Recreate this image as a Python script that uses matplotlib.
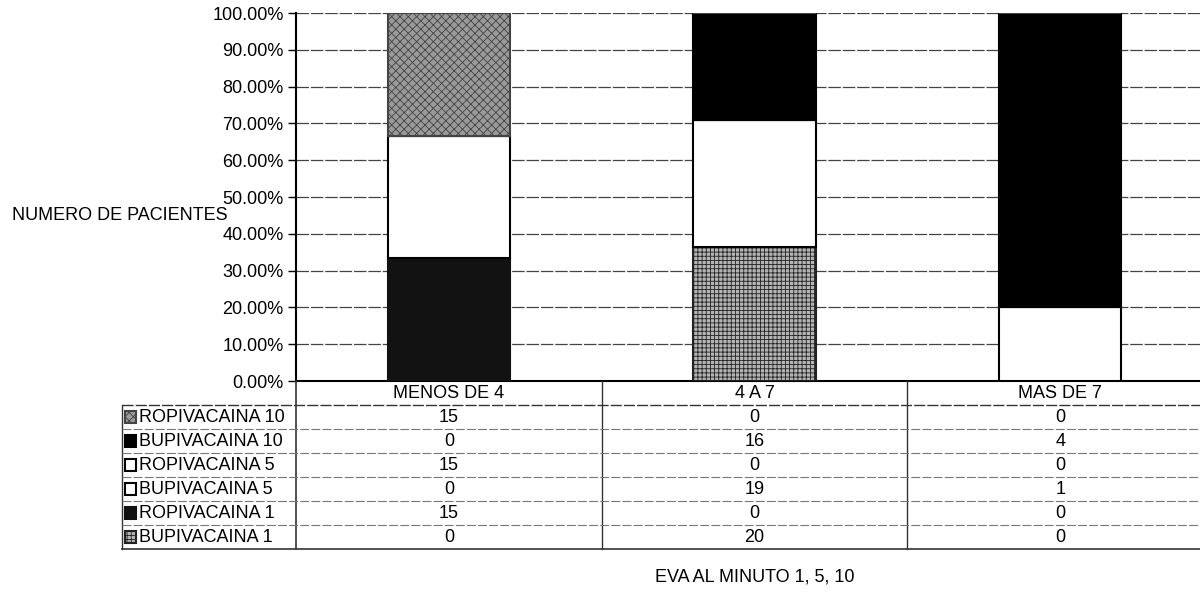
import numpy as np
import matplotlib
matplotlib.use("Agg")
import matplotlib.pyplot as plt
from matplotlib.patches import Rectangle
from matplotlib.ticker import FuncFormatter

plt.rcParams["font.family"] = ["Liberation Sans", "DejaVu Sans"]
plt.rcParams["hatch.linewidth"] = 0.6

# ── data ──────────────────────────────────────────────────────────────────────
categories = ["MENOS DE 4", "4 A 7", "MAS DE 7"]
series     = ["BUPIVACAINA 1", "ROPIVACAINA 1", "BUPIVACAINA 5",
              "ROPIVACAINA 5", "BUPIVACAINA 10", "ROPIVACAINA 10"]   # bottom -> top
values = {
    "BUPIVACAINA 1":  [0, 20, 0],
    "ROPIVACAINA 1":  [15, 0, 0],
    "BUPIVACAINA 5":  [0, 19, 1],
    "ROPIVACAINA 5":  [15, 0, 0],
    "BUPIVACAINA 10": [0, 16, 4],
    "ROPIVACAINA 10": [15, 0, 0],
}
y_label = "NUMERO DE PACIENTES"
x_label = "EVA AL MINUTO 1, 5, 10"

# ── styles ────────────────────────────────────────────────────────────────────
STYLE = {
    "BUPIVACAINA 1":  dict(facecolor="#b4b4b4", edgecolor="#222222", hatch="++++"),
    "ROPIVACAINA 1":  dict(facecolor="#121212", edgecolor="#121212", hatch=None),
    "BUPIVACAINA 5":  dict(facecolor="white",   edgecolor="black",   hatch=None),
    "ROPIVACAINA 5":  dict(facecolor="white",   edgecolor="black",   hatch=None),
    "BUPIVACAINA 10": dict(facecolor="black",   edgecolor="black",   hatch=None),
    "ROPIVACAINA 10": dict(facecolor="#9a9a9a", edgecolor="#444444", hatch="xxxx"),
}
FS = 13

fig = plt.figure(figsize=(12, 6.13), dpi=100)

# ── chart ─────────────────────────────────────────────────────────────────────
W, H = 1200, 613
left, right, top, bottom = 296, 1213, 13, 381
ax = fig.add_axes([left / W, 1 - bottom / H, (right - left) / W, (bottom - top) / H])

data   = np.array([values[s] for s in series], dtype=float)
totals = data.sum(axis=0)
pct    = data / totals
x      = np.arange(len(categories))
base   = np.zeros(len(categories))
for s, p in zip(series, pct):
    st = STYLE[s]
    ax.bar(x, p, 0.4, bottom=base, facecolor=st["facecolor"], hatch=st["hatch"],
           edgecolor=st["edgecolor"], linewidth=1.5, zorder=3)
    base += p

ax.set_xlim(-0.5, 2.5)
ax.set_ylim(0, 1)
ax.set_yticks(np.arange(0, 1.01, 0.1))
ax.yaxis.set_major_formatter(FuncFormatter(lambda v, _: f"{v*100:.2f}%"))
ax.tick_params(axis="y", labelsize=FS, length=6, width=1, pad=3)
ax.set_xticks([])
ax.grid(axis="y", color="#444444", linewidth=0.9, linestyle=(0, (10, 1.5)))
ax.set_axisbelow(True)
for sp in ["top", "right"]:
    ax.spines[sp].set_visible(False)
ax.spines["left"].set_linewidth(1.5)
ax.spines["bottom"].set_linewidth(1.5)
fig.text(12 / W, 1 - 216 / H, y_label, ha="left", va="center", fontsize=FS)

# ── data table ────────────────────────────────────────────────────────────────
t_left, t_bottom = 122, 549
col_w = (right - left) / len(categories)
lab_w = (left - t_left) / col_w
tax = fig.add_axes([t_left / W, 1 - t_bottom / H, (right - t_left) / W, (t_bottom - bottom) / H])
n_rows = len(series) + 1
tax.set_xlim(-0.5 - lab_w, 2.5)
tax.set_ylim(n_rows, 0)
tax.axis("off")

lc = "#333333"
for i, c in enumerate(categories):
    tax.text(i, 0.5, c, ha="center", va="center", fontsize=FS)
tax.plot([-0.5, -0.5], [0, n_rows], color=lc, lw=1.2, clip_on=False)
for i in range(1, len(categories)):
    tax.plot([i - 0.5, i - 0.5], [0, n_rows], color=lc, lw=1.0, clip_on=False)
tax.plot([-0.5 - lab_w, -0.5 - lab_w], [1, n_rows], color=lc, lw=1.0, clip_on=False)
for r in range(2, n_rows):
    tax.plot([-0.5 - lab_w, 2.5], [r, r], color="#777777", lw=0.8,
             linestyle=(0, (8, 2)), clip_on=False)
tax.plot([-0.5 - lab_w, 2.5], [1, 1], color=lc, lw=1.0, linestyle=(0, (8, 1.5)), clip_on=False)
tax.plot([-0.5 - lab_w, 2.5], [n_rows, n_rows], color=lc, lw=1.2, clip_on=False)

key_w = 11 / col_w
for r, s in enumerate(series[::-1]):
    yc = r + 1.5
    st = STYLE[s]
    kx = -0.5 - lab_w + 3 / col_w
    ec = "black" if st["facecolor"] == "white" else st["edgecolor"]
    tax.add_patch(Rectangle((kx, yc - 0.23), key_w, 0.46, facecolor=st["facecolor"],
                            edgecolor=ec, hatch=st["hatch"], linewidth=1.5, clip_on=False))
    tax.text(kx + key_w + 3 / col_w, yc, s, ha="left", va="center", fontsize=FS)
    for i in range(len(categories)):
        tax.text(i, yc, str(values[s][i]), ha="center", va="center", fontsize=FS)

fig.text(755 / W, 1 - 577 / H, x_label, ha="center", va="center", fontsize=FS)

fig.savefig("out.png", dpi=100)
